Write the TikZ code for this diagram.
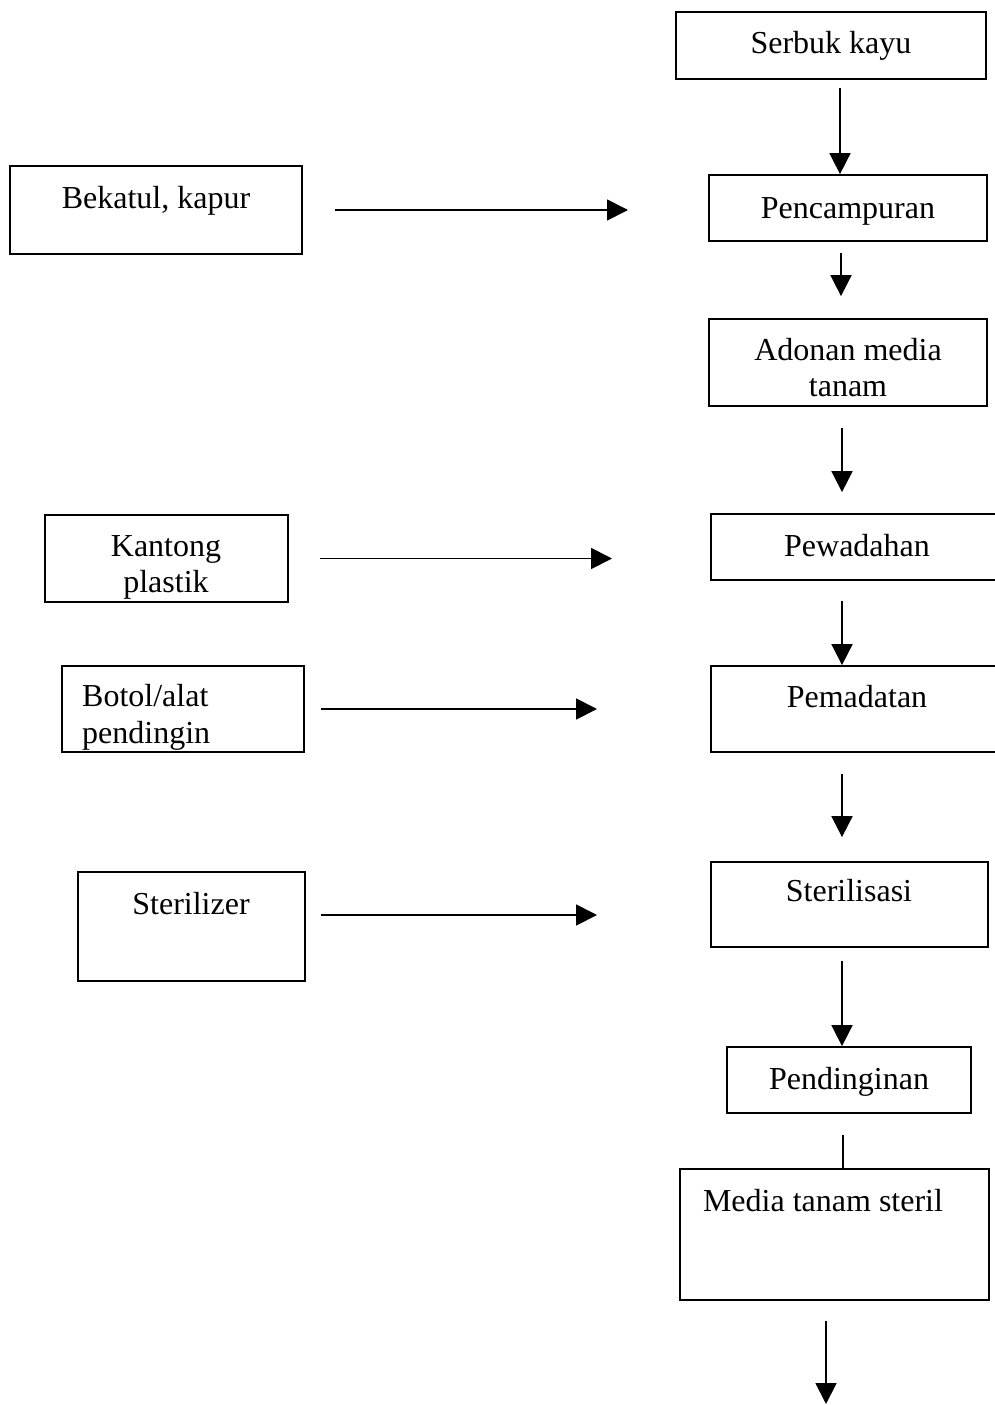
\documentclass[tikz,border=0pt]{standalone}
\usepackage{fontspec}
\setmainfont{Liberation Serif}
\usetikzlibrary{arrows.meta,calc}
\begin{document}
\begin{tikzpicture}[x=1pt,y=-1pt,
  box/.style={draw, line width=1.8pt, inner sep=0pt},
  txt/.style={font=\fontsize{32}{36}\selectfont, inner sep=0pt, anchor=base},
  arr/.style={line width=1.8pt, -{Triangle[length=21pt,width=21pt]}},
  ln/.style={line width=1.8pt}]
\useasboundingbox[fill=white] (0,0) rectangle (994,1405);
% boxes
\node[box, minimum width=310, minimum height=67] (serbuk) at (831,45.5) {};
\node[box, minimum width=292, minimum height=88] (bek) at (156,210) {};
\node[box, minimum width=278, minimum height=66] (penc) at (848,208) {};
\node[box, minimum width=278, minimum height=87] (adon) at (848,362.5) {};
\node[box, minimum width=243, minimum height=87] (kant) at (166.5,558.5) {};
\node[box, minimum width=290, minimum height=66] (pewa) at (856,547) {};
\node[box, minimum width=242, minimum height=86] (botol) at (183,709) {};
\node[box, minimum width=290, minimum height=86] (pema) at (856,709) {};
\node[box, minimum width=227, minimum height=109] (steri) at (191.5,926.5) {};
\node[box, minimum width=277, minimum height=85] (stsasi) at (849.5,904.5) {};
\node[box, minimum width=244, minimum height=66] (pend) at (849,1080) {};
\node[box, minimum width=309, minimum height=131] (media) at (834.5,1234.5) {};
% texts
\node[txt] at (831,54) {Serbuk kayu};
\node[txt] at (156,208) {Bekatul, kapur};
\node[txt] at (848,218) {Pencampuran};
\node[txt] at (848,360) {Adonan media};
\node[txt] at (848,396) {tanam};
\node[txt] at (166,556) {Kantong};
\node[txt] at (166,592) {plastik};
\node[txt] at (857,556) {Pewadahan};
\node[txt, anchor=base west] at (82,706) {Botol/alat};
\node[txt, anchor=base west] at (82,743) {pendingin};
\node[txt] at (857,707) {Pemadatan};
\node[txt] at (191,914) {Sterilizer};
\node[txt] at (849,901) {Sterilisasi};
\node[txt] at (849,1089) {Pendinginan};
\node[txt] at (823,1211) {Media tanam steril};
% free ends
\coordinate (e1) at (628,210);
\coordinate (e2) at (612,558.5);
\coordinate (e3) at (597,709);
\coordinate (e4) at (597,915);
\coordinate (e5) at (826,1404);
% side arrows
\draw[arr] ($(bek.east)+(32,0)$) -- (e1);
\draw[arr] ($(kant.east)+(31,0)$) -- (e2);
\draw[arr] ($(botol.east)+(16,0)$) -- (e3);
\draw[arr] ($(steri.east)+(15,-11.5)$) -- (e4);
% main flow
\draw[arr] ($(serbuk.south)+(9,8)$) -- ($(penc.north)+(-8,0)$);
\draw[arr] ($(penc.south)+(-7,11)$) -- ($(adon.north)+(-7,-22)$);
\draw[arr] ($(adon.south)+(-6,21)$) -- ($(pewa.north)+(-14,-21)$);
\draw[arr] ($(pewa.south)+(-14,20)$) -- ($(pema.north)+(-14,0)$);
\draw[arr] ($(pema.south)+(-14,21)$) -- ($(stsasi.north)+(-7.5,-24)$);
\draw[arr] ($(stsasi.south)+(-7.5,13)$) -- ($(pend.north)+(-7,0)$);
\draw[ln] ($(pend.south)+(-6,21)$) -- ($(media.north)+(8.5,0)$);
\draw[arr] ($(media.south)+(-8.5,20)$) -- (e5);
\end{tikzpicture}
\end{document}
